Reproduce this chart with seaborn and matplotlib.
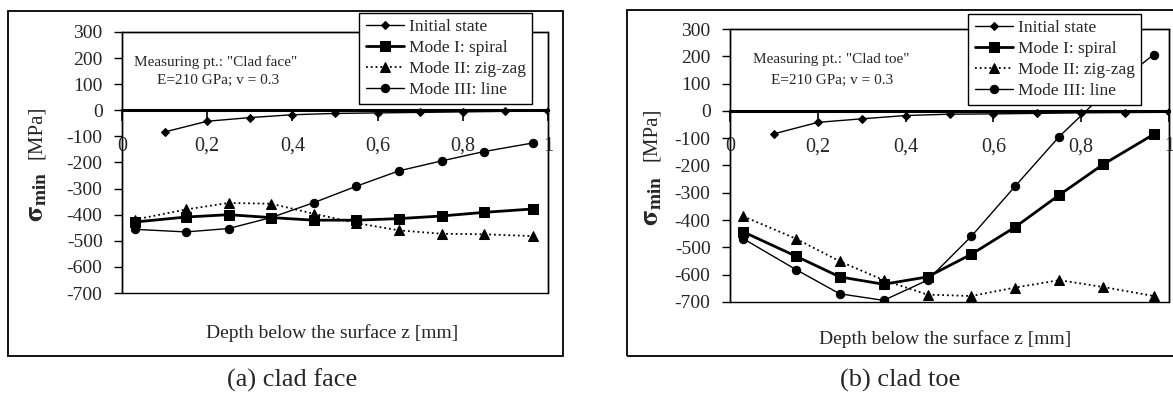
## residual stress profiles: clad face vs clad toe, four modes each
import matplotlib
matplotlib.use("Agg")
import matplotlib.pyplot as plt
from matplotlib.patches import Rectangle
import seaborn as sns
import pandas as pd

## data
depth_init = [0.1, 0.2, 0.3, 0.4, 0.5, 0.6, 0.7, 0.8, 0.9, 1.0]
depth_mode = [0.03, 0.15, 0.25, 0.35, 0.45, 0.55, 0.65, 0.75, 0.85, 0.965]

face_initial = [-83, -42, -28, -17, -12, -10, -8, -6, -4, -3]
face_spiral = [-428, -409, -400, -411, -421, -421, -415, -405, -391, -378]
face_zigzag = [-419, -380, -355, -358, -396, -432, -460, -473, -475, -482]
face_line = [-456, -466, -453, -411, -354, -291, -232, -194, -158, -125]

toe_initial = [-84, -42, -29, -17, -12, -11, -9, -7, -6, -5]
toe_spiral = [-443, -532, -608, -635, -608, -525, -425, -308, -196, -86]
toe_zigzag = [-386, -468, -551, -620, -673, -678, -647, -620, -645, -678]
toe_line = [-468, -581, -670, -694, -620, -459, -275, -94, 60, 206]

series_names = ["Initial state", "Mode I: spiral", "Mode II: zig-zag", "Mode III: line"]
x_ticks = [0, 0.2, 0.4, 0.6, 0.8, 1.0]
x_ticklabels = ["0", "0,2", "0,4", "0,6", "0,8", "1"]
y_ticks = list(range(-700, 301, 100))

W, H = 1173, 394
SERIF = ["Liberation Serif", "DejaVu Serif"]

sns.set_style("white")
plt.rcParams["font.family"] = SERIF
plt.rcParams["mathtext.fontset"] = "stix"
plt.rcParams["axes.unicode_minus"] = False

# line look per series (marker, size, width, style)
styles = [
    dict(marker="D", markersize=4.5, lw=1.0, ls="-"),
    dict(marker="s", markersize=6.5, lw=2.0, ls="-"),
    dict(marker="^", markersize=6.5, lw=1.3, ls=":"),
    dict(marker="o", markersize=6.0, lw=1.0, ls="-"),
]


def fig_rect(px_left, px_top, px_right, px_bottom):
    return [px_left / W, 1 - px_bottom / H, (px_right - px_left) / W, (px_bottom - px_top) / H]


def draw_panel(ax, curves, legend_box, ylabel_x):
    for (xs, ys), name, st in zip(curves, series_names, styles):
        frame = pd.DataFrame({"z": xs, "s": ys})
        sns.lineplot(data=frame, x="z", y="s", ax=ax, color="black", label=name,
                     marker=st["marker"], markersize=st["markersize"], linewidth=st["lw"],
                     linestyle=st["ls"], markeredgecolor="black", markerfacecolor="black",
                     sort=False)
    ax.set_xlim(0, 1)
    ax.set_ylim(-700, 300)
    ax.set_xticks(x_ticks)
    ax.set_xticklabels(x_ticklabels)
    ax.set_yticks(y_ticks)
    ax.set_xlabel("")
    ax.set_ylabel("")
    # sigma_min big and bold, unit smaller above it
    ax.text(ylabel_x, 0.37, r"$\mathbf{\sigma}_{\mathbf{min}}$", transform=ax.transAxes,
            rotation=90, ha="center", va="center", fontsize=20)
    ax.text(ylabel_x, 0.615, "[MPa]", transform=ax.transAxes, rotation=90,
            ha="center", va="center", fontsize=15, family=SERIF)

    # x axis crossing at zero, plot area border kept thin
    for side in ["top", "right", "left"]:
        ax.spines[side].set_color("black")
        ax.spines[side].set_linewidth(1.0)
    ax.spines["bottom"].set_position(("data", 0))
    ax.spines["bottom"].set_linewidth(2.2)
    ax.spines["bottom"].set_color("black")
    ax.add_patch(Rectangle((0, 0), 1, 1, transform=ax.transAxes, fill=False,
                           ec="black", lw=1.0, clip_on=False, zorder=0))

    ax.tick_params(axis="x", direction="out", length=8, width=1.2, pad=11,
                   labelsize=14.5, bottom=True, color="black")
    ax.tick_params(axis="y", direction="out", length=6, width=1.0, pad=8,
                   labelsize=14, left=True, color="black")

    leg = ax.legend(loc="upper right", bbox_to_anchor=legend_box,
                    bbox_transform=ax.figure.transFigure, fontsize=12.5,
                    frameon=True, fancybox=False, framealpha=1, edgecolor="black",
                    labelspacing=0.28, handlelength=2.2, handletextpad=0.3,
                    borderpad=0.35, borderaxespad=0)
    leg.get_frame().set_linewidth(1.0)
    leg.set_zorder(10)


my_figure = plt.figure(figsize=(W / 100, H / 100), dpi=100)
ax_face = my_figure.add_axes(fig_rect(122, 32, 548, 293))
ax_toe = my_figure.add_axes(fig_rect(730, 29, 1169, 302))

draw_panel(ax_face,
           [(depth_init, face_initial), (depth_mode, face_spiral),
            (depth_mode, face_zigzag), (depth_mode, face_line)],
           (532 / W, 1 - 13 / H), -0.2)
draw_panel(ax_toe,
           [(depth_init, toe_initial), (depth_mode, toe_spiral),
            (depth_mode, toe_zigzag), (depth_mode, toe_line)],
           (1141 / W, 1 - 14 / H), -0.178)

# outer frames around each panel
my_figure.add_artist(Rectangle((8 / W, 1 - 356 / H), 555 / W, 345 / H,
                               transform=my_figure.transFigure, fill=False, ec="black", lw=1.3))
my_figure.add_artist(Rectangle((627 / W, 1 - 356 / H), 560 / W, 346 / H,
                               transform=my_figure.transFigure, fill=False, ec="black", lw=1.3))

# notes inside the plots
note_kw = dict(ha="center", va="center", fontsize=11, family=SERIF)
my_figure.text(216 / W, 1 - 62 / H, 'Measuring pt.: "Clad face"', **note_kw)
my_figure.text(218 / W, 1 - 80 / H, "E=210 GPa; v = 0.3", **note_kw)
my_figure.text(831 / W, 1 - 59 / H, 'Measuring pt.: "Clad toe"', **note_kw)
my_figure.text(832 / W, 1 - 80 / H, "E=210 GPa; v = 0.3", **note_kw)

# axis titles and captions
my_figure.text(332 / W, 1 - 333 / H, "Depth below the surface z [mm]",
               ha="center", va="center", fontsize=14, family=SERIF)
my_figure.text(945 / W, 1 - 339 / H, "Depth below the surface z [mm]",
               ha="center", va="center", fontsize=14, family=SERIF)
my_figure.text(292 / W, 1 - 380 / H, "(a) clad face", ha="center", va="center",
               fontsize=19, family=SERIF)
my_figure.text(900 / W, 1 - 380 / H, "(b) clad toe", ha="center", va="center",
               fontsize=19, family=SERIF)

my_figure.savefig("out.png", dpi=100)
